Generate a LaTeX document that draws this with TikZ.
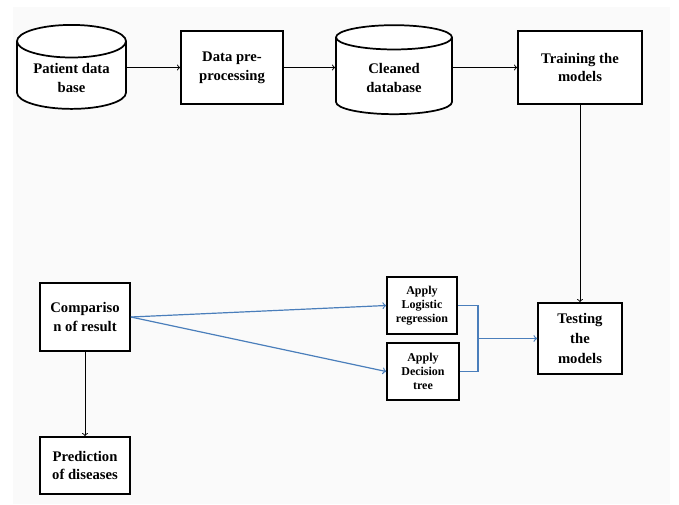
\documentclass[tikz,border=0pt]{standalone}
\usepackage{fontspec}
\setmainfont{Liberation Serif}
\usetikzlibrary{shapes.geometric, positioning, arrows}
\definecolor{paper}{RGB}{250,250,250}
\definecolor{linkblue}{RGB}{74,126,187}
\def\pxu{0.75pt}
\tikzset{
        >=to, % thin open arrow heads
        box/.style={draw, thick, line width=1.3pt, fill=white, align=center,
                    inner sep=2pt, font=\bfseries\fontsize{11}{14}\selectfont},
        base/.style={box, cylinder, shape border rotate=90, aspect=0.4},
        small/.style={font=\bfseries\fontsize{9}{10.5}\selectfont},
        flow/.style={->, line width=0.7pt},
        blueflow/.style={->, line width=0.9pt, linkblue}
        }

\begin{document}
\begin{tikzpicture}[x=0.75pt, y=-0.75pt]
        \useasboundingbox (0,0) rectangle (679,504);
        \fill[paper] (13,7) rectangle (670,504);
        % top row
        \node[base, minimum width=109*\pxu, minimum height=84*\pxu](pdb) at (71.5,78){Patient data\\base};
        \node[box, minimum width=102*\pxu, minimum height=73*\pxu](prep) at (232,67.5){Data pre-\\processing};
        \node[base, minimum width=116*\pxu, minimum height=89*\pxu](cdb) at (394,78){Cleaned\\database};
        \node[box, minimum width=124*\pxu, minimum height=73*\pxu](train) at (580,67.5){Training the\\models};
        % bottom row
        \node[box, minimum width=84*\pxu, minimum height=71*\pxu, font=\bfseries\fontsize{11}{15}\selectfont](test) at (580,338.5){Testing\\the\\models};
        \node[box, small, minimum width=70*\pxu, minimum height=57*\pxu](logit) at (422,305.5){Apply\\Logistic\\regression};
        \node[box, small, minimum width=72*\pxu, minimum height=57*\pxu](dtree) at (423,371.5){Apply\\Decision\\tree};
        \node[box, minimum width=90*\pxu, minimum height=68*\pxu](comp) at (85,317){Compariso\\n of result};
        \node[box, minimum width=90*\pxu, minimum height=57*\pxu](pred) at (85,465.5){Prediction\\of diseases};
        \coordinate (jn) at (478,338.5);
        \draw[flow] (pdb.east |- prep.west) -- (prep.west);
        \draw[flow] (prep.east) -- (cdb.west |- prep.east);
        \draw[flow] (cdb.east |- train.west) -- (train.west);
        \draw[flow] (train) -- (test);
        \draw[blueflow] (comp.east) -- (logit.west);
        \draw[blueflow] (comp.east) -- (dtree.west);
        \draw[linkblue, line width=0.9pt] (logit.east) -| (jn) |- (dtree.east);
        \draw[blueflow] (jn) -- (test.west);
        \draw[flow] (comp) -- (pred);
\end{tikzpicture}
\end{document}
